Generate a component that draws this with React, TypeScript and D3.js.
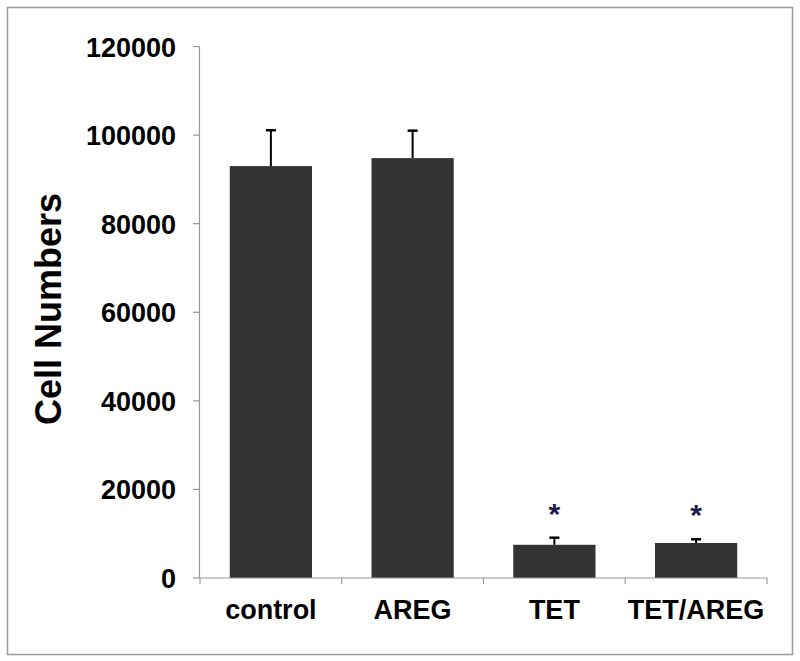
import React from 'react';
import * as d3 from 'd3';

const categories = ['control', 'AREG', 'TET', 'TET/AREG'];
const means = [93000, 94800, 7500, 7900];
const errors = [8100, 6200, 1600, 850];
const significant = [false, false, true, true];
const yTicks = [0, 20000, 40000, 60000, 80000, 100000, 120000];

const App = () => {
  const width = 800;
  const height = 661;
  const margin = { top: 46.5, right: 33, bottom: 83, left: 200 };

  const x = d3
    .scaleBand<string>()
    .domain(categories)
    .range([margin.left, width - margin.right])
    .paddingInner(0.42)
    .paddingOuter(0.21);

  const y = d3
    .scaleLinear()
    .domain([0, 120000])
    .range([height - margin.bottom, margin.top]);

  const boundaries = d3
    .range(categories.length + 1)
    .map((i) => margin.left + i * ((width - margin.right - margin.left) / categories.length));
  const font = '"Liberation Sans", Arial, Helvetica, sans-serif';
  const y0 = y(0);

  return (
    <svg width={width} height={height} style={{ position: 'absolute', left: 0, top: 0 }}>
      <rect x={0} y={0} width={width} height={height} fill="#fff" />
      <rect x={7.5} y={7.5} width={785} height={647} fill="none" stroke="#999" strokeWidth={1.5} />

      {/* y axis */}
      <line x1={margin.left - 0.5} x2={margin.left - 0.5} y1={y(120000)} y2={y0} stroke="#999" strokeWidth={1.2} />
      {yTicks.map((t) => (
        <g key={t}>
          <line x1={margin.left - 7} x2={margin.left - 0.5} y1={y(t)} y2={y(t)} stroke="#999" strokeWidth={1.2} />
          <text
            x={176}
            y={y(t) + 10}
            textAnchor="end"
            fontFamily={font}
            fontWeight="bold"
            fontSize={27}
            fill="#000"
          >
            {t}
          </text>
        </g>
      ))}
      <text
        transform={`translate(61, 309) rotate(-90)`}
        textAnchor="middle"
        fontFamily={font}
        fontWeight="bold"
        fontSize={36}
        fill="#000"
      >
        Cell Numbers
      </text>

      {/* bars */}
      {categories.map((c, i) => {
        const cx = x(c)! + x.bandwidth() / 2;
        const top = y(means[i] + errors[i]);
        return (
          <g key={c}>
            <rect x={x(c)} y={y(means[i])} width={x.bandwidth()} height={y0 - y(means[i])} fill="#333" />
            <line x1={cx} x2={cx} y1={y(means[i])} y2={top} stroke="#000" strokeWidth={2} />
            <line x1={cx - 5} x2={cx + 5} y1={top} y2={top} stroke="#000" strokeWidth={2.5} />
            {significant[i] && (
              <text
                x={cx}
                y={top - 14}
                textAnchor="middle"
                fontFamily={font}
                fontWeight="bold"
                fontSize={30}
                fill="#1c1a4a"
              >
                *
              </text>
            )}
            <text
              x={cx}
              y={619}
              textAnchor="middle"
              fontFamily={font}
              fontWeight="bold"
              fontSize={27}
              fill="#000"
            >
              {c}
            </text>
          </g>
        );
      })}

      {/* x axis */}
      <line x1={margin.left - 0.5} x2={width - margin.right} y1={y0} y2={y0} stroke="#999" strokeWidth={1.2} />
      {boundaries.map((b, i) => (
        <line key={i} x1={b} x2={b} y1={y0} y2={y0 + 6} stroke="#999" strokeWidth={1.2} />
      ))}
    </svg>
  );
};

export default App;
